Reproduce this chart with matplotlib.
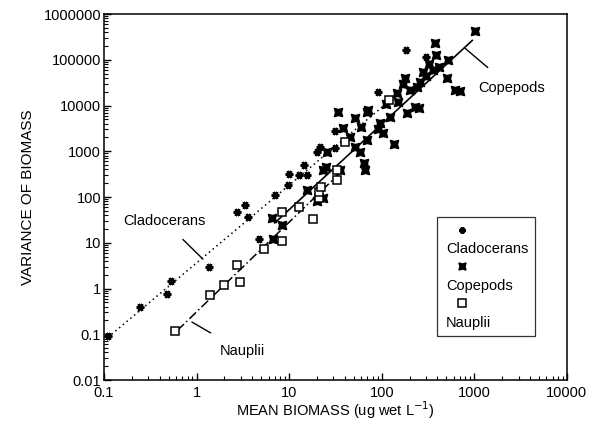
import numpy as np
import matplotlib
matplotlib.use("Agg")
import matplotlib.pyplot as plt
from matplotlib.lines import Line2D

plt.rcParams['font.family'] = ['Liberation Sans', 'DejaVu Sans']

# data
clado_x = [0.11, 0.245, 0.48, 0.53, 1.36, 4.7, 2.73, 3.33, 3.6, 7.0, 9.7, 10.0,
           12.8, 15.5, 14.5, 20, 21.4, 31, 31, 91, 182, 300]
clado_y = [0.09, 0.39, 0.76, 1.46, 2.95, 12, 47, 67, 37, 111, 183, 318,
           300, 300, 500, 950, 1230, 1170, 2760, 19700, 163000, 115000]

cope_x = [1010, 376, 385, 519, 507, 617, 700, 357, 277, 260, 240, 169, 146, 200,
          228, 189, 122, 71, 51, 33.6, 69, 38, 60, 96, 103, 135, 66, 64, 58, 51,
          69, 45, 25.6, 23, 23, 6.66, 6.5, 8.3, 15.5, 20, 25, 35, 420, 300, 150,
          110, 90, 250, 320, 180]
cope_y = [425000, 232000, 127000, 99000, 40000, 22000, 20500, 60000, 54000, 32700,
          25000, 29500, 18700, 22000, 9300, 6860, 5600, 7900, 5300, 7200, 7200,
          3240, 3400, 4170, 2500, 1440, 390, 553, 960, 1230, 1760, 2100, 960, 390,
          95, 12, 35, 24, 142, 80, 450, 390, 70000, 45000, 12000, 11000, 3000,
          9000, 80000, 40000]

naup_x = [0.58, 1.4, 1.98, 2.94, 2.73, 5.35, 8.3, 8.3, 12.8, 18, 21, 21, 22,
          32.5, 33, 40, 120]
naup_y = [0.12, 0.72, 1.19, 1.39, 3.27, 7.3, 11, 47, 60, 33, 95, 130, 166,
          235, 390, 1600, 13000]

# fitted lines: log10(y) = a + b*log10(x), over x range
clado_fit = (0.56, 1.70, 0.11, 120)
cope_fit = (-0.146, 1.87, 7, 950)
naup_fit = (-0.51, 1.96, 0.62, 35)

xticks = [0.1, 1, 10, 100, 1000, 10000]
xticklabels = ['0.1', '1', '10', '100', '1000', '10000']
yticks = [0.01, 0.1, 1, 10, 100, 1000, 10000, 100000, 1000000]
yticklabels = ['0.01', '0.1', '1', '10', '100', '1000', '10000', '100000', '1000000']


def fit_line(p):
    a, b, x0, x1 = p
    xs = np.logspace(np.log10(x0), np.log10(x1), 50)
    return xs, 10 ** (a + b * np.log10(xs))


fig = plt.figure(figsize=(5.93, 4.22), dpi=100)
ax = fig.add_axes([0.1754, 0.0995, 0.7806, 0.8673])
ax.set_xscale('log')
ax.set_yscale('log')

clado_mk = dict(marker=(6, 2, 90), markersize=5.5, markeredgewidth=1.8,
                color='black', linestyle='none')
cope_mk = dict(marker=(4, 1, 45), markersize=8.5, color='black',
               linestyle='none')
naup_mk = dict(marker='s', markersize=6, markerfacecolor='white',
               markeredgecolor='black', markeredgewidth=1.1, linestyle='none')

xs, ys = fit_line(clado_fit)
ax.plot(xs, ys, color='black', linestyle=(0, (1, 2.2)), linewidth=1.1)
xs, ys = fit_line(cope_fit)
ax.plot(xs, ys, color='black', linestyle='-', linewidth=1.2)
xs, ys = fit_line(naup_fit)
ax.plot(xs, ys, color='black', linestyle=(0, (6, 2, 1, 2)), linewidth=1.1)

ax.plot(cope_x, cope_y, **cope_mk)
ax.plot(clado_x, clado_y, **clado_mk)
ax.plot(naup_x, naup_y, **naup_mk)

# labels with leader lines
ax.annotate('Cladocerans', xy=(1.17, 4.4), xytext=(0.445, 30),
            ha='center', va='center', fontsize=10.5,
            arrowprops=dict(arrowstyle='-', color='black', lw=1,
                            shrinkA=9, shrinkB=0))
ax.annotate('Nauplii', xy=(0.89, 0.185), xytext=(3.09, 0.043),
            ha='center', va='center', fontsize=10.5,
            arrowprops=dict(arrowstyle='-', color='black', lw=1,
                            shrinkA=12, shrinkB=0))
ax.annotate('Copepods', xy=(790, 180000), xytext=(2550, 24000),
            ha='center', va='center', fontsize=10.5,
            arrowprops=dict(arrowstyle='-', color='black', lw=1,
                            shrinkA=12, shrinkB=0))

# legend: marker on one row, name on the next
blank = Line2D([], [], linestyle='none')
handles = [Line2D([], [], **clado_mk), blank,
           Line2D([], [], **cope_mk), blank,
           Line2D([], [], **naup_mk), blank]
labels = ['', 'Cladocerans', '', 'Copepods', '', 'Nauplii']
leg = ax.legend(handles, labels, loc='lower right', bbox_to_anchor=(0.947, 0.1),
                fontsize=10.5, handlelength=2.6, handletextpad=-2.4,
                labelspacing=0.3, borderpad=0.45, fancybox=False,
                frameon=True, edgecolor='black', markerscale=0.85)
leg.get_frame().set_linewidth(0.9)

ax.set_xlim(0.1, 10000)
ax.set_ylim(0.01, 1000000)
ax.set_xticks(xticks)
ax.set_xticklabels(xticklabels)
ax.set_yticks(yticks)
ax.set_yticklabels(yticklabels)
ax.tick_params(which='both', direction='in', top=False, right=False,
               labelsize=10.5)
ax.tick_params(axis='x', pad=4)
ax.tick_params(axis='y', pad=2)
ax.tick_params(which='major', length=5, width=1)
ax.tick_params(which='minor', length=3, width=0.8)
for s in ax.spines.values():
    s.set_linewidth(1.1)

ax.set_xlabel('MEAN BIOMASS (ug wet L$^{-1}$)', fontsize=10.5, labelpad=0)
ax.set_ylabel('VARIANCE OF BIOMASS', fontsize=11, labelpad=6)

fig.savefig('out.png', dpi=100)
